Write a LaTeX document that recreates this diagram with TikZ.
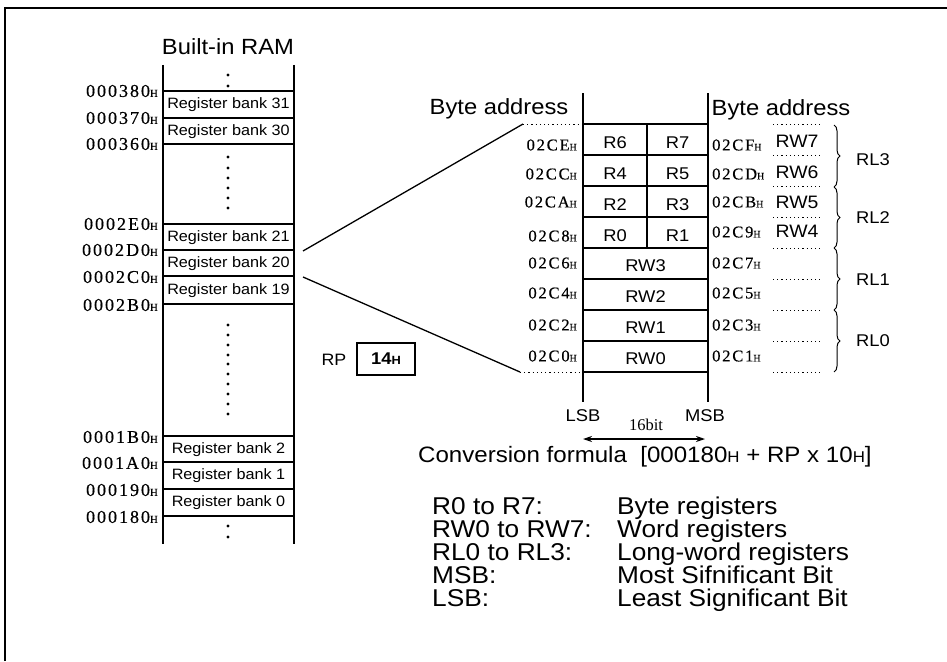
\documentclass[tikz,border=0pt]{standalone}
\usepackage{fontspec}
\setmainfont[FakeStretch=1.08]{Liberation Sans}
\newfontfamily\addrfont[LetterSpace=11,FakeBold=0.4]{Liberation Serif}
\newfontfamily\serfont{Liberation Serif}
\usetikzlibrary{decorations.pathreplacing,arrows.meta}
\newcommand\sH{\scalebox{0.7}{H}}
\newcommand\adr[1]{{\addrfont\fontsize{18}{18}\selectfont #1\scalebox{0.6}{H}}}
\newcommand\adrs[1]{{\addrfont\fontsize{16.5}{17}\selectfont #1\scalebox{0.6}{H}}}
\begin{document}
\begin{tikzpicture}[x=1pt,y=-1pt,
  bank/.style={font=\fontsize{15}{16}\selectfont, inner sep=0pt},
  addrL/.style={anchor=east, inner sep=0pt},
  addrR/.style={anchor=west, inner sep=0pt},
  reg/.style={font=\fontsize{17}{17}\selectfont, inner sep=0pt},
  regR/.style={font=\fontsize{18}{18}\selectfont, inner sep=0pt},
  title/.style={font=\fontsize{22}{22}\selectfont, inner sep=0pt},
  leg/.style={font=\fontsize{24.3}{24.3}\selectfont, anchor=base west, inner sep=0pt},
  dotline/.style={line width=1pt, dash pattern=on 1.2pt off 3pt},
  colline/.style={line width=1.8pt},
  rowline/.style={line width=1.2pt},
  dotmark/.style={circle, fill, inner sep=0pt, minimum size=3.2pt},
  bracestyle/.style={line width=1pt, decorate, decoration={brace, amplitude=6pt}}
]
\useasboundingbox (0,0) rectangle (947,661);
% outer frame
\draw[line width=2pt] (5,661) -- (5,8) -- (947,8);

% ---------------- left column: built-in RAM
\node[title] (ram) at (228,47) {Built-in RAM};
\draw[colline] (163,65) -- (163,544);
\draw[colline] (294,65) -- (294,544);
\foreach \y in {91,118,144,224,250,276,304,436,462,489,516}
  \draw[rowline] (163,\y) -- (294,\y);
\node[bank] (b31) at (228.5,105) {Register bank 31};
\node[bank] (b30) at (228.5,131.5) {Register bank 30};
\node[bank] (b21) at (228.5,237.5) {Register bank 21};
\node[bank] (b20) at (228.5,263.5) {Register bank 20};
\node[bank] (b19) at (228.5,290.5) {Register bank 19};
\node[bank] (b2) at (228.5,449.5) {Register bank 2};
\node[bank] (b1) at (228.5,475.5) {Register bank 1};
\node[bank] (b0) at (228.5,502.5) {Register bank 0};
\foreach \y in {75,86,157,168,178,188,198,208,325,335,345,355,364,374,384,394,404,414,526,537}
  \node[dotmark] at (228,\y) {};
\node[addrL] (a380) at (158,91) {\adr{000380}};
\node[addrL] (a370) at (158,118) {\adr{000370}};
\node[addrL] (a360) at (158,144) {\adr{000360}};
\node[addrL] (a2E0) at (158,224) {\adr{0002E0}};
\node[addrL] (a2D0) at (158,250) {\adr{0002D0}};
\node[addrL] (a2C0) at (158,277) {\adr{0002C0}};
\node[addrL] (a2B0) at (158,305) {\adr{0002B0}};
\node[addrL] (a1B0) at (158,437) {\adr{0001B0}};
\node[addrL] (a1A0) at (158,463) {\adr{0001A0}};
\node[addrL] (a190) at (158,490) {\adr{000190}};
\node[addrL] (a180) at (158,517) {\adr{000180}};

% ---------------- RP
\node[font=\fontsize{16.5}{17}\selectfont, inner sep=0pt] (rp) at (334,360) {RP};
\node[draw, line width=1.6pt, minimum width=58pt, minimum height=32pt, inner sep=0pt,
      font=\fontsize{17}{17}\selectfont\bfseries] (rpbox) at (386,359) {14\sH};

% ---------------- right register table
\node[title] (baL) at (499,109) {Byte address};
\node[title] (baR) at (781,110) {Byte address};
\coordinate (tl) at (583,124);
\coordinate (bl) at (583,372);
\coordinate (dl1) at (523,124);
\coordinate (dl2) at (520,372);
\draw[colline] (583,93) -- (583,402);
\draw[colline] (708,93) -- (708,402);
\foreach \y in {124,155,186,217,248,279,310,341,372}
  \draw[rowline] (583,\y) -- (708,\y);
\draw[rowline] (647,124) -- (647,248);
\draw[dotline] (dl1) -- (tl);
\draw[dotline] (dl2) -- (bl);
\foreach \y in {124,155,186,217,248,279,310,341,372}
  \draw[dotline] (773,\y) -- (822,\y);

% connectors from register bank 20
\coordinate (c1) at (303,251);
\coordinate (c2) at (303,277);
\draw[line width=1.3pt] (c1) -- (dl1);
\draw[line width=1.3pt] (c2) -- (dl2);

% register names
\node[reg] (r6) at (615,143) {R6};
\node[reg] (r7) at (677.5,143) {R7};
\node[reg] (r4) at (615,174) {R4};
\node[reg] (r5) at (677.5,174) {R5};
\node[reg] (r2) at (615,205) {R2};
\node[reg] (r3) at (677.5,205) {R3};
\node[reg] (r0) at (615,236) {R0};
\node[reg] (r1) at (677.5,236) {R1};
\node[reg] (rw3) at (645.5,266) {RW3};
\node[reg] (rw2) at (645.5,297) {RW2};
\node[reg] (rw1) at (645.5,328) {RW1};
\node[reg] (rw0) at (645.5,359) {RW0};

% addresses left of table
\node[addrL] (l0) at (577,145) {\adrs{02CE}};
\node[addrL] (l1) at (577,174) {\adrs{02CC}};
\node[addrL] (l2) at (577,202) {\adrs{02CA}};
\node[addrL] (l3) at (577,236) {\adrs{02C8}};
\node[addrL] (l4) at (577,263) {\adrs{02C6}};
\node[addrL] (l5) at (577,293) {\adrs{02C4}};
\node[addrL] (l6) at (577,325) {\adrs{02C2}};
\node[addrL] (l7) at (577,356) {\adrs{02C0}};
% addresses right of table
\node[addrR] (m0) at (712,145) {\adrs{02CF}};
\node[addrR] (m1) at (712,174) {\adrs{02CD}};
\node[addrR] (m2) at (712,202) {\adrs{02CB}};
\node[addrR] (m3) at (712,232) {\adrs{02C9}};
\node[addrR] (m4) at (712,263) {\adrs{02C7}};
\node[addrR] (m5) at (712,293) {\adrs{02C5}};
\node[addrR] (m6) at (712,325) {\adrs{02C3}};
\node[addrR] (m7) at (712,356) {\adrs{02C1}};
% word registers on the right
\node[regR] (rw7) at (797,141) {RW7};
\node[regR] (rw6) at (797,172) {RW6};
\node[regR] (rw5) at (797,202) {RW5};
\node[regR] (rw4) at (797,231) {RW4};
% braces
\draw[bracestyle] (834,125) -- (834,187);
\draw[bracestyle] (834,187) -- (834,248);
\draw[bracestyle] (834,248) -- (834,310);
\draw[bracestyle] (834,310) -- (834,372);
\node[reg] (rl3) at (873,160) {RL3};
\node[reg] (rl2) at (873,218) {RL2};
\node[reg] (rl1) at (873,280) {RL1};
\node[reg] (rl0) at (873,341) {RL0};

% LSB / MSB and width arrow
\node[reg] (lsb) at (583,416) {LSB};
\node[reg] (msb) at (705,416) {MSB};
\coordinate (ar1) at (583,439);
\coordinate (ar2) at (705,439);
\draw[line width=1.2pt, {Stealth[length=9pt,width=6pt]}-{Stealth[length=9pt,width=6pt]}] (ar1) -- (ar2);
\node[inner sep=0pt, font=\serfont\fontsize{16.5}{16.5}\selectfont] (bits) at (646,425) {16bit};

% formula and legend
\node[leg, anchor=west, font=\fontsize{22.3}{22.3}\selectfont] (conv) at (418,457) {Conversion formula\ \ [000180\sH{} + RP x 10\sH]};
\node[leg] (k1) at (432,514) {R0 to R7:};
\node[leg] (k2) at (432,537) {RW0 to RW7:};
\node[leg] (k3) at (432,560) {RL0 to RL3:};
\node[leg] (k4) at (432,583) {MSB:};
\node[leg] (k5) at (432,606) {LSB:};
\node[leg] (v1) at (617,514) {Byte registers};
\node[leg] (v2) at (617,537) {Word registers};
\node[leg] (v3) at (617,560) {Long-word registers};
\node[leg] (v4) at (617,583) {Most Sifnificant Bit};
\node[leg] (v5) at (617,606) {Least Significant Bit};
\end{tikzpicture}
\end{document}
